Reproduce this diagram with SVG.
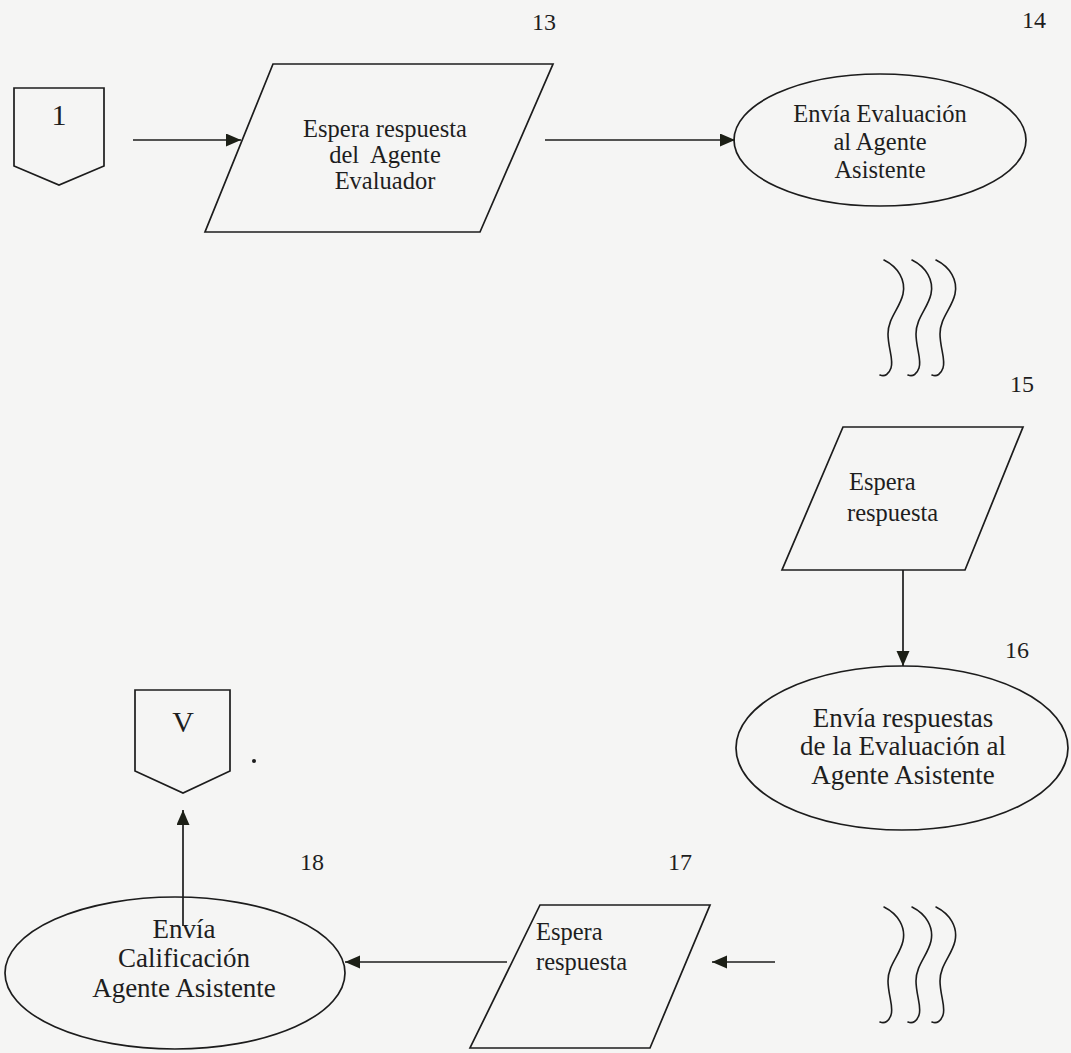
<svg xmlns="http://www.w3.org/2000/svg" width="1071" height="1053" viewBox="0 0 1071 1053">
  <defs>
    <style>
      .shape { fill: none; stroke: #1c1c1c; stroke-width: 1.7; stroke-linejoin: miter; }
      .link { fill: none; stroke: #1c1c1c; stroke-width: 1.7; }
      .wave { fill: none; stroke: #1c1c1c; stroke-width: 1.6; stroke-linecap: round; }
      .lbl { font-family: "Liberation Serif", "Times New Roman", serif; font-size: 24.5px; fill: #1e1e1e; }
      .lg { font-size: 27px; }
      .mid { text-anchor: middle; }
      .num { font-family: "Liberation Serif", "Times New Roman", serif; font-size: 24px; fill: #1e1e1e; }
      .big { font-family: "Liberation Serif", "Times New Roman", serif; font-size: 30px; fill: #1e1e1e; text-anchor: middle; }
    </style>
    <marker id="arrow" markerUnits="userSpaceOnUse" markerWidth="16" markerHeight="14" refX="15" refY="6.5" orient="auto">
      <path d="M0,0 L15,6.5 L0,13 Z" fill="#1c1f16"/>
    </marker>
    <!-- one wavy stroke of the "continues" mark -->
    <path id="wave" d="M0,0 C14,7 22,20 19,34 C16,48 4,58 4,74 C4,88 10,100 7,108 C5,114 1,117 -4,115"/>
  </defs>

  <rect width="1071" height="1053" fill="#f5f5f4"/>

  <!-- step numbers -->
  <g id="numbers">
    <text class="num" x="532" y="30">13</text>
    <text class="num" x="1022" y="28">14</text>
    <text class="num" x="1010" y="392">15</text>
    <text class="num" x="1005" y="658">16</text>
    <text class="num" x="668" y="870">17</text>
    <text class="num" x="300" y="870">18</text>
  </g>

  <!-- off-page connector 1 -->
  <g id="node-1">
    <polygon class="shape" points="14,88 104,88 104,166 59,185 14,166"/>
    <text class="big" x="59" y="125">1</text>
  </g>

  <!-- 13: wait for evaluator reply -->
  <g id="node-13">
    <polygon class="shape" points="273,64 553,64 480,232 205,232"/>
    <text class="lbl mid" x="385" y="137">Espera respuesta</text>
    <text class="lbl mid" x="385" y="163">del&#160; Agente</text>
    <text class="lbl mid" x="385" y="189">Evaluador</text>
  </g>

  <!-- 14: send evaluation -->
  <g id="node-14">
    <ellipse class="shape" cx="880" cy="140" rx="146" ry="66"/>
    <text class="lbl mid" x="880" y="122">Envía Evaluación</text>
    <text class="lbl mid" x="880" y="150">al Agente</text>
    <text class="lbl mid" x="880" y="178">Asistente</text>
  </g>

  <!-- wait marks -->
  <g id="wait-upper">
    <use href="#wave" class="wave" x="884" y="260"/>
    <use href="#wave" class="wave" x="912" y="260"/>
    <use href="#wave" class="wave" x="936" y="260"/>
  </g>

  <!-- 15: wait for reply -->
  <g id="node-15">
    <polygon class="shape" points="843,427 1023,427 965,570 782,570"/>
    <text class="lbl" x="849" y="490">Espera</text>
    <text class="lbl" x="847" y="521">respuesta</text>
  </g>

  <!-- 16: send answers -->
  <g id="node-16">
    <ellipse class="shape" cx="902" cy="748" rx="166" ry="82"/>
    <text class="lbl lg mid" x="903" y="727">Envía respuestas</text>
    <text class="lbl lg mid" x="903" y="755">de la Evaluación al</text>
    <text class="lbl lg mid" x="903" y="784">Agente Asistente</text>
  </g>

  <!-- off-page connector V -->
  <g id="node-V">
    <polygon class="shape" points="135,690 230,690 230,771 183,793 135,771"/>
    <text class="big" x="183" y="732">V</text>
    <circle cx="254" cy="761" r="2" fill="#1c1c1c"/>
  </g>

  <!-- 17: wait for reply -->
  <g id="node-17">
    <polygon class="shape" points="540,905 710,905 650,1048 470,1048"/>
    <text class="lbl" x="536" y="940">Espera</text>
    <text class="lbl" x="536" y="970">respuesta</text>
  </g>

  <!-- 18: send grade -->
  <g id="node-18">
    <ellipse class="shape" cx="175" cy="973" rx="170" ry="76"/>
    <text class="lbl lg mid" x="184" y="938">Envía</text>
    <text class="lbl lg mid" x="184" y="967">Calificación</text>
    <text class="lbl lg mid" x="184" y="997">Agente Asistente</text>
  </g>

  <!-- wait marks -->
  <g id="wait-lower">
    <use href="#wave" class="wave" x="884" y="907"/>
    <use href="#wave" class="wave" x="912" y="907"/>
    <use href="#wave" class="wave" x="936" y="907"/>
  </g>

  <!-- flow connectors -->
  <g id="connectors">
    <line class="link" x1="133" y1="140" x2="241" y2="140" marker-end="url(#arrow)"/>
    <line class="link" x1="545" y1="140" x2="735" y2="140" marker-end="url(#arrow)"/>
    <line class="link" x1="903" y1="570" x2="903" y2="666" marker-end="url(#arrow)"/>
    <line class="link" x1="775" y1="962" x2="712" y2="962" marker-end="url(#arrow)"/>
    <line class="link" x1="507" y1="962" x2="345" y2="962" marker-end="url(#arrow)"/>
    <line class="link" x1="183" y1="926" x2="183" y2="810" marker-end="url(#arrow)"/>
  </g>
</svg>
